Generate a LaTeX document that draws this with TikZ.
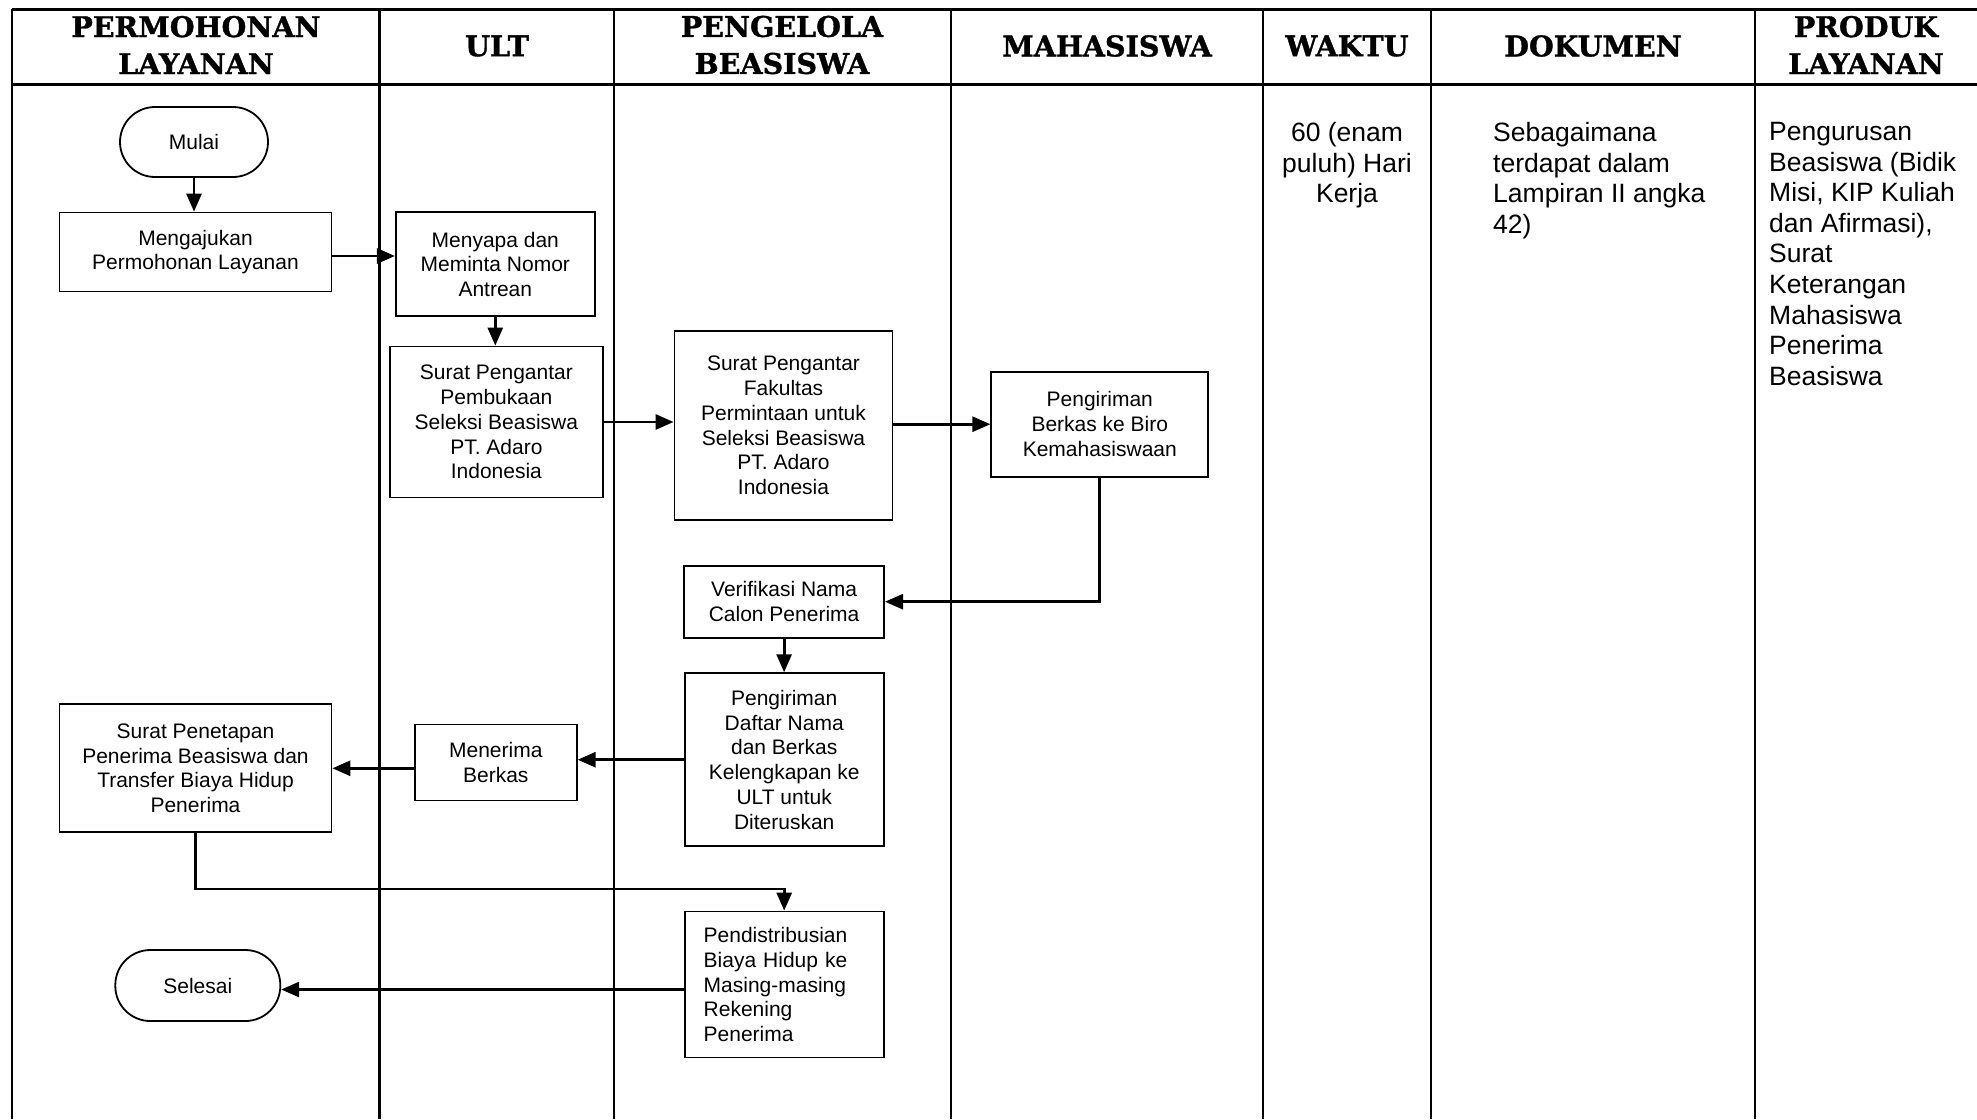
\documentclass[tikz,border=0pt]{standalone}
\usepackage{fontspec}
\setmainfont{Liberation Sans}
\newfontfamily\hdrfont{DejaVu Serif}[BoldFeatures={FakeBold=1.2}]
\usetikzlibrary{arrows.meta}
\begin{document}
\begin{tikzpicture}[x=1pt,y=-1pt,
  tbl/.style={line width=2.4pt},
  tblh/.style={line width=3pt},
  hdr/.style={align=center,inner sep=0pt,font=\hdrfont\bfseries\fontsize{28.5}{37}\selectfont},
  box/.style={draw,line width=1.8pt,align=center,inner sep=0pt,font=\fontsize{21}{24.8}\selectfont},
  term/.style={box,rounded corners=35pt},
  side/.style={inner sep=0pt,font=\fontsize{26.5}{30.6}\selectfont},
  arr/.style={line width=2.8pt,-{Triangle[length=18pt,width=15pt]}}]
\useasboundingbox (0,0) rectangle (1977,1119);
% table
\draw[tblh] (12,9) -- (1977,9);
\draw[tblh] (12,84.5) -- (1977,84.5);
\foreach \x in {12,379.5,614,951,1263,1431,1755}
  \draw[tbl] (\x,9) -- (\x,1119);
% headers
\node[hdr] (h1) at (196,45) {PERMOHONAN\\LAYANAN};
\node[hdr] (h2) at (497,46) {ULT};
\node[hdr] (h3) at (782,45) {PENGELOLA\\BEASISWA};
\node[hdr] (h4) at (1107,46) {MAHASISWA};
\node[hdr] (h5) at (1347,46) {WAKTU};
\node[hdr] (h6) at (1593,46) {DOKUMEN};
\node[hdr] (h7) at (1866,45) {PRODUK\\LAYANAN};
% side columns
\node[side,anchor=north,align=center] (waktu) at (1347,122) {60 (enam\\puluh) Hari\\Kerja};
\node[side,anchor=north west,align=left] (dok) at (1493,122) {Sebagaimana\\terdapat dalam\\Lampiran II angka\\42)};
\node[side,anchor=north west,align=left] (prod) at (1769,122) {Pengurusan\\Beasiswa (Bidik\\Misi, KIP Kuliah\\dan Afirmasi),\\Surat\\Keterangan\\Mahasiswa\\Penerima\\Beasiswa};
% flow nodes
\node[term,minimum width=148pt,minimum height=70pt] (mulai) at (194,142) {Mulai};
\node[box,minimum width=272pt,minimum height=79pt] (mengajukan) at (195.5,252) {Mengajukan\\Permohonan Layanan};
\node[box,minimum width=199pt,minimum height=104pt] (menyapa) at (495.3,264.3) {Menyapa dan\\Meminta Nomor\\Antrean};
\node[box,minimum width=213pt,minimum height=151pt] (pembukaan) at (496.4,422) {Surat Pengantar\\Pembukaan\\Seleksi Beasiswa\\PT. Adaro\\Indonesia};
\node[box,minimum width=218pt,minimum height=189pt] (fakultas) at (783.5,425.5) {Surat Pengantar\\Fakultas\\Permintaan untuk\\Seleksi Beasiswa\\PT. Adaro\\Indonesia};
\node[box,minimum width=217pt,minimum height=105pt] (pengiriman) at (1099.8,424.2) {Pengiriman\\Berkas ke Biro\\Kemahasiswaan};
\node[box,minimum width=200pt,minimum height=72pt] (verifikasi) at (784.1,601.7) {Verifikasi Nama\\Calon Penerima};
\node[box,minimum width=199pt,minimum height=173pt] (daftar) at (784.2,759.7) {Pengiriman\\Daftar Nama\\dan Berkas\\Kelengkapan ke\\ULT untuk\\Diteruskan};
\node[box,minimum width=162pt,minimum height=76pt] (menerima) at (495.8,762.5) {Menerima\\Berkas};
\node[box,minimum width=272pt,minimum height=128pt] (penetapan) at (195.5,768.3) {Surat Penetapan\\Penerima Beasiswa dan\\Transfer Biaya Hidup\\Penerima};
\node[box,align=left,text width=161pt,minimum width=199pt,minimum height=146pt] (pendist) at (784.2,984.5) {Pendistribusian\\Biaya Hidup ke\\Masing-masing\\Rekening\\Penerima};
\node[term,minimum width=165pt,minimum height=71pt] (selesai) at (197.8,985.5) {Selesai};
% connectors
\coordinate (bendy) at (400,889);
\draw[arr] (mulai.south) -- (mulai.south |- mengajukan.north);
\draw[arr] ([yshift=-4pt]mengajukan.east) -- ([yshift=-4pt]mengajukan.east -| menyapa.west);
\draw[arr] (menyapa.south) -- (menyapa.south |- pembukaan.north);
\draw[arr] (pembukaan.east) -- (pembukaan.east -| fakultas.west);
\draw[arr] (pengiriman.west -| fakultas.east) -- (pengiriman.west);
\draw[arr] (pengiriman.south) |- (verifikasi.east);
\draw[arr] (verifikasi.south) -- (verifikasi.south |- daftar.north);
\draw[arr] (daftar.west) -- (daftar.west -| menerima.east);
\draw[arr] (penetapan.east -| menerima.west) -- (penetapan.east);
\draw[arr] (penetapan.south) |- (bendy) -| (pendist.north);
\draw[arr] ([yshift=-5pt]pendist.west) -- ([yshift=-5pt]pendist.west -| selesai.east);
\end{tikzpicture}
\end{document}
